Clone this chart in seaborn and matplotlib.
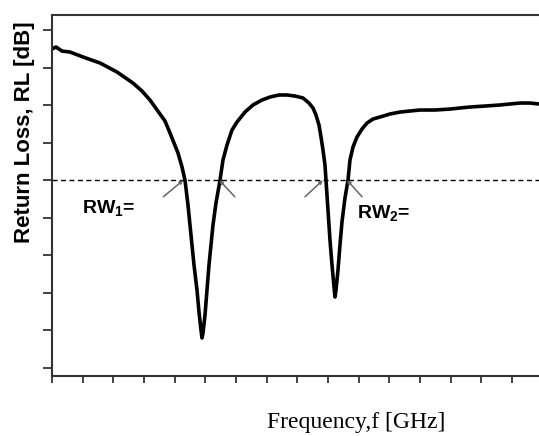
import numpy as np
import pandas as pd
import matplotlib
matplotlib.use("Agg")
import matplotlib.pyplot as plt
import seaborn as sns

# Data (frequency in tick units, return loss in dB)
freq = [0.000, 0.130, 0.326, 0.587, 1.011, 1.565, 2.119, 2.641, 2.934, 3.195,
        3.521, 3.684, 3.848, 3.978, 4.108, 4.239, 4.337, 4.434, 4.532, 4.630,
        4.728, 4.793, 4.858, 4.891, 4.923, 4.989, 5.054, 5.119, 5.184, 5.249,
        5.347, 5.478, 5.575, 5.706, 5.869, 6.032, 6.293, 6.553, 6.847, 7.108,
        7.401, 7.662, 7.923, 8.184, 8.379, 8.510, 8.608, 8.706, 8.771, 8.836,
        8.901, 8.934, 8.999, 9.064, 9.130, 9.195, 9.227, 9.260, 9.325, 9.390,
        9.455, 9.553, 9.651, 9.716, 9.814, 9.945, 10.108, 10.271, 10.466,
        10.695, 11.021, 11.347, 11.673, 11.999, 12.488, 12.977, 13.303,
        13.629, 14.118, 14.607, 14.933, 15.259, 15.585, 15.879]
rl = [-2.53, -2.26, -2.80, -2.93, -3.59, -4.39, -5.59, -7.06, -8.12, -9.32,
      -11.18, -12.11, -13.71, -15.04, -16.37, -18.24, -20.0, -23.30, -27.29,
      -31.28, -34.61, -37.54, -39.94, -41.00, -40.34, -37.94, -34.61, -31.28,
      -28.62, -25.96, -23.03, -20.0, -17.31, -15.31, -13.31, -12.25, -10.92,
      -9.98, -9.32, -8.92, -8.65, -8.65, -8.79, -9.05, -9.72, -10.38, -11.32,
      -12.65, -14.24, -15.97, -17.97, -20.0, -23.96, -27.96, -31.28, -34.21,
      -35.54, -34.61, -31.95, -28.62, -25.56, -22.36, -20.0, -17.31, -15.58,
      -14.24, -13.18, -12.38, -11.85, -11.58, -11.18, -10.92, -10.78, -10.65,
      -10.65, -10.52, -10.38, -10.25, -10.12, -9.98, -9.85, -9.72, -9.72,
      -9.85]
threshold = -20.0
x_ticks = list(range(0, 16))
y_ticks = [0, -5, -10, -15, -20, -25, -30, -35, -40, -45]
labels = ["RW$_1$=", "RW$_2$="]
label_pos = [(0.98, -24.4), (9.94, -25.0)]
arrows = [((4.28, -20.0), (3.63, -22.2)),
          ((5.46, -20.0), (5.96, -22.2)),
          ((8.83, -20.0), (8.25, -22.2)),
          ((9.62, -20.0), (10.11, -22.2))]

sns.set_style("ticks")
plt.rcParams["font.family"] = ["Liberation Sans", "DejaVu Sans"]
plt.rcParams["mathtext.fontset"] = "custom"
plt.rcParams["mathtext.rm"] = "Liberation Sans:bold"
plt.rcParams["mathtext.it"] = "Liberation Sans:bold"
plt.rcParams["mathtext.bf"] = "Liberation Sans:bold"

fig = plt.figure(figsize=(5.39, 4.36), dpi=100)
ax = fig.add_axes([52 / 539, 60 / 436, 490.7 / 539, 361 / 436])

df = pd.DataFrame({"freq": freq, "rl": rl})
sns.lineplot(data=df, x="freq", y="rl", ax=ax, color="black", lw=2.6,
             sort=False, estimator=None, solid_joinstyle="round")
ax.axhline(threshold, color="black", lw=1.0, dashes=(3.6, 2.5))

for (xy, xytext) in arrows:
    ax.annotate("", xy=xy, xytext=xytext,
                arrowprops=dict(arrowstyle="-|>", color="#666666", lw=1.1,
                                mutation_scale=5, shrinkA=0, shrinkB=0))
for txt, (tx, ty) in zip(labels, label_pos):
    ax.text(tx, ty, txt, fontsize=14, fontweight="bold", color="black",
            family=["Liberation Sans", "DejaVu Sans"], va="baseline")

ax.set_xlim(0, 16)
ax.set_ylim(-46.06, 2.0)
ax.set_xticks(x_ticks)
ax.set_yticks(y_ticks)
ax.set_xticklabels([])
ax.set_yticklabels([])
ax.tick_params(axis="y", direction="out", length=6.5, width=1.2, color="#222222")
ax.tick_params(axis="x", direction="out", length=5, width=1.2, color="#222222")
ax.set_xlabel("")
ax.set_ylabel("")
for s in ["top", "left", "bottom"]:
    ax.spines[s].set_visible(True)
    ax.spines[s].set_linewidth(1.5)
    ax.spines[s].set_color("#333333")
ax.spines["right"].set_visible(False)

fig.text(25 / 539, 1 - 132 / 436, "Return Loss, RL [dB]", rotation=90,
         ha="center", va="center", fontsize=16, fontweight="bold",
         color="black", family=["Liberation Sans", "DejaVu Sans"])
fig.text(356 / 539, 1 - 422 / 436, "Frequency,f [GHz]", ha="center",
         va="center", fontsize=17, color="black",
         family=["Liberation Serif", "DejaVu Serif"])

fig.savefig("out.png", dpi=100)
